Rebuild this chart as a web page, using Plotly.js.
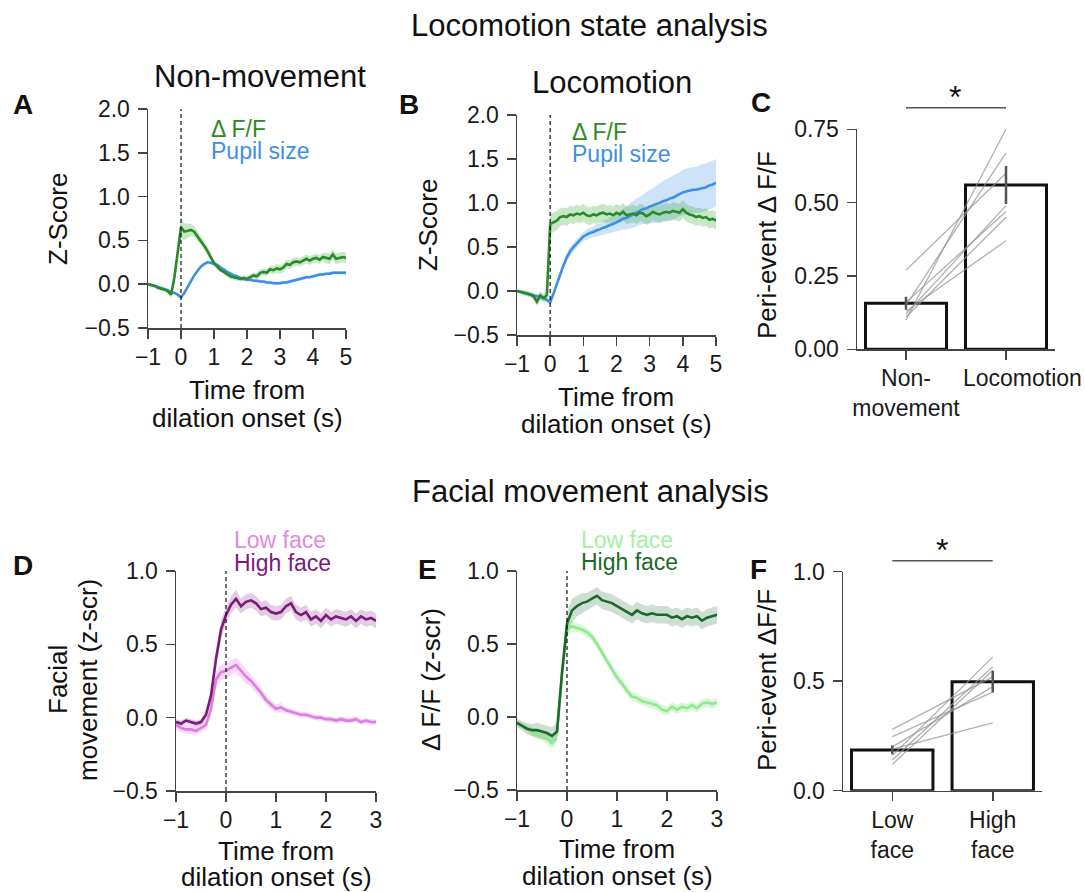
<!DOCTYPE html>
<html>
<head>
<meta charset="utf-8">
<script src="https://cdn.plot.ly/plotly-3.0.1.min.js"></script>
<style>html,body{margin:0;padding:0;background:#fff;}#chart{width:1085px;height:892px;}</style>
</head>
<body>
<div id="chart"></div>
<script>
// ---------------- DATA ----------------
// Time axes (s from dilation onset)
const timeAB = [-1.0,-0.9,-0.8,-0.7,-0.6,-0.5,-0.4,-0.3,-0.2,-0.1,0.0,0.1,0.2,0.3,0.4,0.5,0.6,0.7,0.8,0.9,1.0,1.1,1.2,1.3,1.4,1.5,1.6,1.7,1.8,1.9,2.0,2.1,2.2,2.3,2.4,2.5,2.6,2.7,2.8,2.9,3.0,3.1,3.2,3.3,3.4,3.5,3.6,3.7,3.8,3.9,4.0,4.1,4.2,4.3,4.4,4.5,4.6,4.7,4.8,4.9,5.0];
const timeDE = [-1.0,-0.9,-0.8,-0.7,-0.6,-0.5,-0.4,-0.3,-0.2,-0.1,0.0,0.1,0.2,0.3,0.4,0.5,0.6,0.7,0.8,0.9,1.0,1.1,1.2,1.3,1.4,1.5,1.6,1.7,1.8,1.9,2.0,2.1,2.2,2.3,2.4,2.5,2.6,2.7,2.8,2.9,3.0];

// Panel A: Non-movement
const nonmovDff = [0.00,-0.01,-0.02,-0.04,-0.05,-0.06,-0.08,-0.12,0.08,0.38,0.65,0.60,0.61,0.62,0.60,0.55,0.50,0.44,0.38,0.31,0.24,0.20,0.16,0.14,0.11,0.09,0.08,0.07,0.06,0.07,0.06,0.08,0.10,0.09,0.13,0.14,0.13,0.17,0.16,0.18,0.17,0.19,0.23,0.22,0.25,0.26,0.25,0.27,0.29,0.27,0.29,0.30,0.28,0.31,0.30,0.29,0.34,0.29,0.30,0.31,0.30];
const nonmovDffSem = [0.02,0.02,0.02,0.02,0.03,0.03,0.03,0.04,0.05,0.08,0.12,0.10,0.08,0.07,0.06,0.06,0.05,0.05,0.05,0.04,0.04,0.04,0.03,0.03,0.03,0.03,0.03,0.03,0.03,0.03,0.03,0.03,0.03,0.04,0.04,0.04,0.04,0.04,0.05,0.05,0.05,0.05,0.05,0.05,0.05,0.05,0.05,0.05,0.05,0.05,0.05,0.05,0.05,0.05,0.06,0.06,0.06,0.06,0.06,0.06,0.06];
const nonmovPupil = [0.00,-0.01,-0.02,-0.03,-0.05,-0.06,-0.07,-0.09,-0.10,-0.12,-0.15,-0.10,-0.03,0.04,0.10,0.15,0.20,0.23,0.25,0.245,0.235,0.22,0.19,0.16,0.14,0.12,0.10,0.09,0.07,0.06,0.05,0.05,0.04,0.04,0.03,0.03,0.02,0.02,0.01,0.01,0.01,0.02,0.02,0.03,0.04,0.05,0.06,0.07,0.08,0.08,0.09,0.10,0.11,0.11,0.12,0.12,0.13,0.13,0.13,0.13,0.13];
const nonmovPupilSem = [0.01,0.01,0.01,0.01,0.01,0.01,0.01,0.015,0.015,0.02,0.02,0.02,0.02,0.02,0.02,0.02,0.02,0.02,0.02,0.02,0.02,0.02,0.02,0.02,0.02,0.02,0.02,0.02,0.02,0.02,0.02,0.02,0.02,0.02,0.02,0.02,0.02,0.02,0.02,0.02,0.02,0.02,0.02,0.02,0.02,0.02,0.02,0.02,0.02,0.02,0.02,0.02,0.02,0.02,0.02,0.02,0.02,0.02,0.02,0.02,0.02];

// Panel B: Locomotion
const locoDff = [0.00,-0.01,-0.02,-0.03,-0.04,-0.06,-0.12,-0.05,-0.08,-0.05,0.76,0.78,0.80,0.84,0.85,0.84,0.87,0.86,0.88,0.87,0.89,0.86,0.85,0.87,0.86,0.88,0.89,0.87,0.88,0.86,0.89,0.87,0.90,0.86,0.87,0.88,0.86,0.89,0.88,0.85,0.87,0.90,0.88,0.87,0.89,0.90,0.89,0.91,0.90,0.89,0.93,0.89,0.87,0.86,0.84,0.85,0.83,0.84,0.81,0.82,0.80];
const locoDffSem = [0.02,0.02,0.03,0.03,0.03,0.04,0.05,0.05,0.05,0.06,0.12,0.11,0.11,0.10,0.10,0.10,0.10,0.10,0.10,0.10,0.10,0.10,0.10,0.10,0.10,0.10,0.10,0.10,0.10,0.10,0.10,0.10,0.10,0.10,0.10,0.10,0.10,0.10,0.10,0.10,0.10,0.10,0.10,0.10,0.10,0.10,0.10,0.10,0.10,0.10,0.10,0.10,0.10,0.10,0.10,0.10,0.10,0.10,0.10,0.10,0.10];
const locoPupil = [0.00,-0.01,-0.02,-0.03,-0.04,-0.05,-0.06,-0.07,-0.08,-0.10,-0.13,-0.03,0.08,0.19,0.29,0.38,0.45,0.50,0.54,0.58,0.62,0.64,0.66,0.67,0.69,0.70,0.72,0.73,0.75,0.76,0.78,0.80,0.82,0.83,0.85,0.87,0.89,0.91,0.93,0.94,0.96,0.97,0.99,1.00,1.02,1.03,1.05,1.06,1.08,1.10,1.12,1.13,1.14,1.15,1.15,1.16,1.17,1.18,1.20,1.21,1.23];
const locoPupilSem = [0.01,0.01,0.02,0.02,0.02,0.02,0.03,0.03,0.03,0.03,0.03,0.03,0.04,0.04,0.04,0.05,0.05,0.05,0.05,0.05,0.05,0.06,0.06,0.06,0.07,0.07,0.08,0.08,0.09,0.09,0.10,0.11,0.12,0.13,0.14,0.15,0.16,0.16,0.17,0.18,0.19,0.20,0.21,0.22,0.23,0.24,0.24,0.25,0.25,0.25,0.26,0.26,0.26,0.26,0.26,0.27,0.27,0.27,0.27,0.27,0.27];

// Panel C: peri-event dF/F per animal
const barCatsC = ["Non-<br>movement", "Locomotion"];
const barMeanC = [0.157, 0.56];
const barSemC = [0.022, 0.065];
const animalsNonmov = [0.10, 0.27, 0.15, 0.12, 0.16, 0.11, 0.13];
const animalsLoco   = [0.75, 0.60, 0.67, 0.49, 0.47, 0.45, 0.37];

// Panel D: facial movement
const faceHigh = [-0.03,-0.04,-0.02,-0.03,-0.04,-0.03,0.02,0.15,0.40,0.60,0.70,0.77,0.81,0.76,0.79,0.80,0.78,0.74,0.75,0.72,0.71,0.72,0.76,0.78,0.72,0.70,0.72,0.67,0.69,0.66,0.70,0.67,0.69,0.68,0.67,0.69,0.66,0.69,0.67,0.68,0.66];
const faceHighSem = [0.02,0.02,0.02,0.02,0.02,0.02,0.03,0.04,0.05,0.06,0.06,0.06,0.06,0.05,0.05,0.05,0.05,0.05,0.05,0.05,0.05,0.05,0.05,0.05,0.05,0.05,0.05,0.05,0.05,0.05,0.05,0.05,0.05,0.05,0.05,0.05,0.05,0.05,0.05,0.05,0.05];
const faceLow = [-0.05,-0.07,-0.08,-0.08,-0.09,-0.07,-0.05,0.06,0.26,0.31,0.32,0.34,0.36,0.32,0.28,0.25,0.21,0.17,0.12,0.09,0.06,0.07,0.05,0.04,0.03,0.02,0.02,0.01,0.00,0.00,-0.01,-0.01,-0.02,-0.01,-0.02,-0.02,-0.01,-0.03,-0.02,-0.03,-0.03];
const faceLowSem = [0.03,0.03,0.03,0.03,0.03,0.03,0.03,0.04,0.05,0.05,0.05,0.05,0.05,0.05,0.05,0.04,0.04,0.04,0.03,0.03,0.03,0.03,0.02,0.02,0.02,0.02,0.02,0.02,0.02,0.02,0.02,0.02,0.02,0.02,0.02,0.02,0.02,0.02,0.02,0.02,0.02];

// Panel E: dF/F by face state
const dffHighFace = [-0.04,-0.06,-0.08,-0.09,-0.09,-0.10,-0.11,-0.13,-0.10,0.30,0.64,0.73,0.76,0.78,0.79,0.81,0.83,0.80,0.79,0.78,0.76,0.74,0.72,0.70,0.73,0.71,0.70,0.71,0.70,0.70,0.70,0.68,0.69,0.67,0.69,0.68,0.69,0.66,0.68,0.69,0.70];
const dffHighFaceSem = [0.03,0.03,0.04,0.04,0.05,0.05,0.05,0.06,0.06,0.07,0.08,0.08,0.07,0.07,0.06,0.06,0.06,0.06,0.06,0.06,0.06,0.06,0.06,0.06,0.06,0.06,0.06,0.06,0.06,0.06,0.06,0.06,0.06,0.06,0.06,0.06,0.06,0.06,0.06,0.06,0.06];
const dffLowFace = [-0.04,-0.06,-0.08,-0.10,-0.12,-0.13,-0.15,-0.18,-0.12,0.30,0.60,0.62,0.61,0.60,0.58,0.55,0.50,0.44,0.38,0.33,0.27,0.23,0.18,0.14,0.13,0.11,0.10,0.09,0.08,0.05,0.04,0.07,0.05,0.07,0.06,0.08,0.06,0.09,0.10,0.09,0.10];
const dffLowFaceSem = [0.02,0.02,0.02,0.03,0.03,0.03,0.04,0.04,0.04,0.04,0.04,0.04,0.03,0.03,0.03,0.03,0.03,0.03,0.03,0.03,0.03,0.03,0.03,0.03,0.03,0.03,0.03,0.03,0.03,0.03,0.03,0.03,0.03,0.03,0.03,0.03,0.03,0.03,0.03,0.03,0.03];

// Panel F: peri-event dF/F per animal by face state
const barCatsF = ["Low<br>face", "High<br>face"];
const barMeanF = [0.186, 0.498];
const barSemF = [0.02, 0.05];
const animalsLowFace  = [0.28, 0.19, 0.16, 0.12, 0.14, 0.20, 0.247];
const animalsHighFace = [0.52, 0.31, 0.61, 0.55, 0.566, 0.475, 0.45];

// ---------------- STYLE ----------------
const FONT = "Liberation Sans, Arial, Helvetica, sans-serif";
const W = 1085, H = 892;
const px = v => v / W;
const py = v => 1 - v / H;

function band(x, y, sem, xa, ya, fill) {
  const up = y.map((v, i) => v + sem[i]);
  const lo = y.map((v, i) => v - sem[i]);
  return {x: x.concat(x.slice().reverse()), y: up.concat(lo.slice().reverse()),
    xaxis: xa, yaxis: ya, type: 'scatter', mode: 'lines', fill: 'toself',
    fillcolor: fill, line: {width: 0, color: 'rgba(0,0,0,0)'}, hoverinfo: 'skip'};
}
function line(x, y, xa, ya, color, w) {
  return {x: x, y: y, xaxis: xa, yaxis: ya, type: 'scatter', mode: 'lines',
    line: {color: color, width: w || 2.6}};
}

const GREEN = '#2a8a2a', GREEN_F = 'rgba(70,175,70,0.30)';
const BLUE = '#3d8fe6', BLUE_F = 'rgba(61,143,230,0.25)';
const PURP = '#7a1a7a', PURP_F = 'rgba(122,26,122,0.22)';
const PINK = '#dc7edc', PINK_F = 'rgba(224,130,224,0.30)';
const DGRN = '#1a6a2a', DGRN_F = 'rgba(40,100,50,0.22)';
const LGRN = '#90e890', LGRN_F = 'rgba(143,232,143,0.35)';

const traces = [];
// A
traces.push(band(timeAB, nonmovPupil, nonmovPupilSem, 'x', 'y', BLUE_F));
traces.push(band(timeAB, nonmovDff, nonmovDffSem, 'x', 'y', GREEN_F));
traces.push(line(timeAB, nonmovPupil, 'x', 'y', BLUE));
traces.push(line(timeAB, nonmovDff, 'x', 'y', GREEN));
// B
traces.push(band(timeAB, locoPupil, locoPupilSem, 'x2', 'y2', BLUE_F));
traces.push(band(timeAB, locoDff, locoDffSem, 'x2', 'y2', GREEN_F));
traces.push(line(timeAB, locoPupil, 'x2', 'y2', BLUE));
traces.push(line(timeAB, locoDff, 'x2', 'y2', GREEN));
// C
traces.push({type: 'bar', x: [0, 1], y: barMeanC, xaxis: 'x3', yaxis: 'y3', width: 0.81,
  marker: {color: 'white', line: {color: '#111', width: 3}}});
animalsNonmov.forEach((v, i) => traces.push({type: 'scatter', mode: 'lines', x: [0, 1], y: [v, animalsLoco[i]],
  xaxis: 'x3', yaxis: 'y3', line: {color: 'rgba(150,150,150,0.75)', width: 1.3}}));
traces.push({type: 'scatter', mode: 'markers', x: [0, 1], y: barMeanC, xaxis: 'x3', yaxis: 'y3',
  marker: {size: 1, color: 'rgba(0,0,0,0)'},
  error_y: {type: 'data', array: barSemC, visible: true, width: 0, thickness: 2.5, color: '#555'}});
// D
traces.push(band(timeDE, faceLow, faceLowSem, 'x4', 'y4', PINK_F));
traces.push(band(timeDE, faceHigh, faceHighSem, 'x4', 'y4', PURP_F));
traces.push(line(timeDE, faceLow, 'x4', 'y4', PINK));
traces.push(line(timeDE, faceHigh, 'x4', 'y4', PURP));
// E
traces.push(band(timeDE, dffLowFace, dffLowFaceSem, 'x5', 'y5', LGRN_F));
traces.push(band(timeDE, dffHighFace, dffHighFaceSem, 'x5', 'y5', DGRN_F));
traces.push(line(timeDE, dffLowFace, 'x5', 'y5', LGRN));
traces.push(line(timeDE, dffHighFace, 'x5', 'y5', DGRN));
// F
traces.push({type: 'bar', x: [0, 1], y: barMeanF, xaxis: 'x6', yaxis: 'y6', width: 0.81,
  marker: {color: 'white', line: {color: '#111', width: 3}}});
animalsLowFace.forEach((v, i) => traces.push({type: 'scatter', mode: 'lines', x: [0, 1], y: [v, animalsHighFace[i]],
  xaxis: 'x6', yaxis: 'y6', line: {color: 'rgba(150,150,150,0.75)', width: 1.3}}));
traces.push({type: 'scatter', mode: 'markers', x: [0, 1], y: barMeanF, xaxis: 'x6', yaxis: 'y6',
  marker: {size: 1, color: 'rgba(0,0,0,0)'},
  error_y: {type: 'data', array: barSemF, visible: true, width: 0, thickness: 2.5, color: '#555'}});

const base = {showline: true, linecolor: '#444', linewidth: 1.5, ticks: 'outside', ticklen: 9,
  tickwidth: 1.5, tickcolor: '#444', showgrid: false, zeroline: false, fixedrange: true,
  tickfont: {family: FONT, size: 23, color: '#1a1a1a'}, ticklabelstandoff: 3};
function ax(o) { return Object.assign({}, base, o); }
const XT = {tickangle: 0, ticklabelstandoff: -1};

const layout = {
  width: W, height: H, margin: {l: 0, r: 0, t: 0, b: 0},
  paper_bgcolor: 'white', plot_bgcolor: 'white', showlegend: false,
  font: {family: FONT, color: '#111'},
  xaxis:  ax(Object.assign({domain: [px(148), px(346)], range: [-1, 5], tickvals: [-1,0,1,2,3,4,5], anchor: 'y'}, XT)),
  yaxis:  ax({domain: [py(328), py(109)], range: [-0.5, 2.0], tickvals: [-0.5,0,0.5,1,1.5,2], tickformat: '.1f', anchor: 'x'}),
  xaxis2: ax(Object.assign({domain: [px(517), px(716)], range: [-1, 5], tickvals: [-1,0,1,2,3,4,5], anchor: 'y2'}, XT)),
  yaxis2: ax({domain: [py(335), py(115)], range: [-0.5, 2.0], tickvals: [-0.5,0,0.5,1,1.5,2], tickformat: '.1f', anchor: 'x2'}),
  // second category label of C is placed as an annotation (it sits right of its tick in the original)
  xaxis3: ax(Object.assign({domain: [px(857), px(1055)], range: [-0.49, 1.49], tickvals: [0, 1], ticktext: [barCatsC[0], ''], anchor: 'y3'}, XT)),
  yaxis3: ax({domain: [py(349.3), py(129.3)], range: [0, 0.75], tickvals: [0, 0.25, 0.5, 0.75], tickformat: '.2f', anchor: 'x3'}),
  xaxis4: ax(Object.assign({domain: [px(176), px(376)], range: [-1, 3], tickvals: [-1,0,1,2,3], anchor: 'y4'}, XT)),
  yaxis4: ax({domain: [py(791), py(571)], range: [-0.5, 1.0], tickvals: [-0.5,0,0.5,1], tickformat: '.1f', anchor: 'x4'}),
  xaxis5: ax(Object.assign({domain: [px(517), px(717)], range: [-1, 3], tickvals: [-1,0,1,2,3], anchor: 'y5'}, XT)),
  yaxis5: ax({domain: [py(790), py(571)], range: [-0.5, 1.0], tickvals: [-0.5,0,0.5,1], tickformat: '.1f', anchor: 'x5'}),
  xaxis6: ax(Object.assign({domain: [px(843), px(1042)], range: [-0.49, 1.49], tickvals: [0, 1], ticktext: barCatsF, anchor: 'y6'}, XT)),
  yaxis6: ax({domain: [py(790.7), py(571.7)], range: [0, 1.0], tickvals: [0, 0.5, 1], tickformat: '.1f', anchor: 'x6'}),
  shapes: [],
  annotations: []
};

// dashed onset lines
[['x','y'],['x2','y2'],['x4','y4'],['x5','y5']].forEach(([xa, ya]) => {
  layout.shapes.push({type: 'line', xref: xa, yref: ya + ' domain', x0: 0, x1: 0, y0: 0, y1: 1,
    line: {color: '#111', width: 1.2, dash: '4px,3px'}});
});
// significance bars
layout.shapes.push({type: 'line', xref: 'x3', yref: 'paper', x0: 0, x1: 1, y0: py(107.7), y1: py(107.7), line: {color: '#555', width: 1.5}});
layout.shapes.push({type: 'line', xref: 'x6', yref: 'paper', x0: 0, x1: 1, y0: py(560.7), y1: py(560.7), line: {color: '#555', width: 1.5}});

function txt(text, x, y, o) {
  layout.annotations.push(Object.assign({text: text, xref: 'paper', yref: 'paper', x: px(x), y: py(y),
    showarrow: false, xanchor: 'center', yanchor: 'middle',
    font: {family: FONT, size: 26, color: '#111'}}, o || {}));
}
const TITLE = {font: {family: FONT, size: 31, color: '#111'}};
const LETTER = {font: {family: FONT, size: 28, color: '#111', weight: 'bold'}};
const AXT = {font: {family: FONT, size: 26, color: '#111'}};
const YT = {font: {family: FONT, size: 26, color: '#111'}, textangle: -90};
const LEG = c => ({font: {family: FONT, size: 23, color: c}, xanchor: 'left'});

// Section titles
txt('Locomotion state analysis', 589, 25, TITLE);
txt('Facial movement analysis', 590, 491, TITLE);
txt('Non-movement', 260, 77, TITLE);
txt('Locomotion', 612, 82, TITLE);
// panel letters
txt('<b>A</b>', 23, 104, LETTER);
txt('<b>B</b>', 409, 104, LETTER);
txt('<b>C</b>', 761, 102, LETTER);
txt('<b>D</b>', 23, 565, LETTER);
txt('<b>E</b>', 427, 569, LETTER);
txt('<b>F</b>', 758, 569, LETTER);
// legends
txt('Δ F/F', 209, 129, LEG('#2e8b22'));
txt('Pupil size', 209, 151, LEG(BLUE));
txt('Δ F/F', 570, 132, LEG('#2e8b22'));
txt('Pupil size', 570, 154, LEG(BLUE));
txt('Low face', 232, 540, LEG('#e08ae0'));
txt('High face', 232, 563, LEG(PURP));
txt('Low face', 579, 540, LEG('#a4f0a4'));
txt('High face', 579, 562, LEG(DGRN));
// second category label of panel C
txt(barCatsC[1], 1022, 378, {font: {family: FONT, size: 23, color: '#1a1a1a'}});
// stars
txt('*', 955, 97, {font: {family: FONT, size: 32, color: '#111'}});
txt('*', 942, 550, {font: {family: FONT, size: 32, color: '#111'}});
// axis titles
txt('Time from', 247, 390, AXT); txt('dilation onset (s)', 247, 418, AXT);
txt('Time from', 616, 397, AXT); txt('dilation onset (s)', 616, 424, AXT);
txt('Time from', 276, 851, AXT); txt('dilation onset (s)', 276, 877, AXT);
txt('Time from', 617, 849, AXT); txt('dilation onset (s)', 617, 876, AXT);
txt('Z-Score', 58, 219, YT);
txt('Z-Score', 428, 225, YT);
txt('Peri-event Δ F/F', 767, 245, YT);
txt('Facial', 58, 680, YT);
txt('movement (z-scr)', 88, 680, YT);
txt('Δ F/F (z-scr)', 431, 680, YT);
txt('Peri-event ΔF/F', 767, 680, YT);

Plotly.newPlot('chart', traces, layout, {staticPlot: true, displayModeBar: false});
</script>
</body>
</html>
